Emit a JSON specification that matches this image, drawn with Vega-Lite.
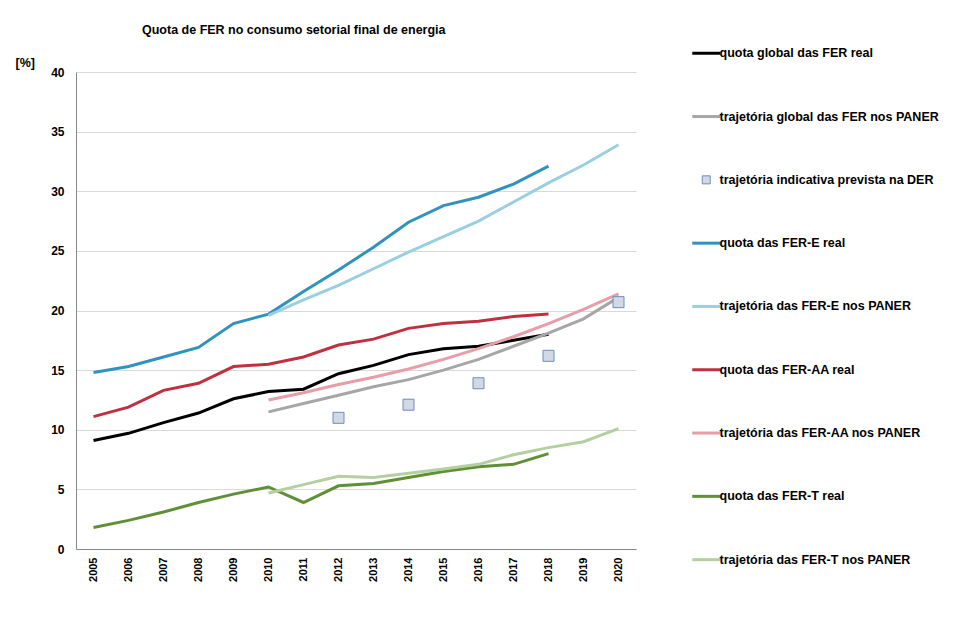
{
  "$schema": "https://vega.github.io/schema/vega-lite/v6.json",
  "width": 560,
  "height": 477,
  "autosize": {"type": "none"},
  "padding": {"left": 76, "top": 72, "right": 342, "bottom": 91},
  "background": "white",
  "title": {
    "text": "Quota de FER no consumo setorial final de energia",
    "anchor": "start",
    "dx": 127,
    "dy": 19,
    "offset": 30,
    "font": "Liberation Sans",
    "fontSize": 12.5,
    "fontWeight": "bold",
    "color": "#000000"
  },
  "data": {
    "values": [
      {"year": 2005, "series": "quota global das FER real", "value": 9.1},
      {"year": 2006, "series": "quota global das FER real", "value": 9.7},
      {"year": 2007, "series": "quota global das FER real", "value": 10.6},
      {"year": 2008, "series": "quota global das FER real", "value": 11.4},
      {"year": 2009, "series": "quota global das FER real", "value": 12.6},
      {"year": 2010, "series": "quota global das FER real", "value": 13.2},
      {"year": 2011, "series": "quota global das FER real", "value": 13.4},
      {"year": 2012, "series": "quota global das FER real", "value": 14.7},
      {"year": 2013, "series": "quota global das FER real", "value": 15.4},
      {"year": 2014, "series": "quota global das FER real", "value": 16.3},
      {"year": 2015, "series": "quota global das FER real", "value": 16.8},
      {"year": 2016, "series": "quota global das FER real", "value": 17.0},
      {"year": 2017, "series": "quota global das FER real", "value": 17.5},
      {"year": 2018, "series": "quota global das FER real", "value": 18.0},

      {"year": 2010, "series": "trajetória global das FER nos PANER", "value": 11.5},
      {"year": 2011, "series": "trajetória global das FER nos PANER", "value": 12.2},
      {"year": 2012, "series": "trajetória global das FER nos PANER", "value": 12.9},
      {"year": 2013, "series": "trajetória global das FER nos PANER", "value": 13.6},
      {"year": 2014, "series": "trajetória global das FER nos PANER", "value": 14.2},
      {"year": 2015, "series": "trajetória global das FER nos PANER", "value": 15.0},
      {"year": 2016, "series": "trajetória global das FER nos PANER", "value": 15.9},
      {"year": 2017, "series": "trajetória global das FER nos PANER", "value": 17.0},
      {"year": 2018, "series": "trajetória global das FER nos PANER", "value": 18.1},
      {"year": 2019, "series": "trajetória global das FER nos PANER", "value": 19.3},
      {"year": 2020, "series": "trajetória global das FER nos PANER", "value": 21.1},

      {"year": 2012, "series": "trajetória indicativa prevista na DER", "value": 11.0},
      {"year": 2014, "series": "trajetória indicativa prevista na DER", "value": 12.1},
      {"year": 2016, "series": "trajetória indicativa prevista na DER", "value": 13.9},
      {"year": 2018, "series": "trajetória indicativa prevista na DER", "value": 16.2},
      {"year": 2020, "series": "trajetória indicativa prevista na DER", "value": 20.7},

      {"year": 2005, "series": "quota das FER-E real", "value": 14.8},
      {"year": 2006, "series": "quota das FER-E real", "value": 15.3},
      {"year": 2007, "series": "quota das FER-E real", "value": 16.1},
      {"year": 2008, "series": "quota das FER-E real", "value": 16.9},
      {"year": 2009, "series": "quota das FER-E real", "value": 18.9},
      {"year": 2010, "series": "quota das FER-E real", "value": 19.7},
      {"year": 2011, "series": "quota das FER-E real", "value": 21.6},
      {"year": 2012, "series": "quota das FER-E real", "value": 23.4},
      {"year": 2013, "series": "quota das FER-E real", "value": 25.3},
      {"year": 2014, "series": "quota das FER-E real", "value": 27.4},
      {"year": 2015, "series": "quota das FER-E real", "value": 28.8},
      {"year": 2016, "series": "quota das FER-E real", "value": 29.5},
      {"year": 2017, "series": "quota das FER-E real", "value": 30.6},
      {"year": 2018, "series": "quota das FER-E real", "value": 32.1},

      {"year": 2010, "series": "trajetória das FER-E nos PANER", "value": 19.6},
      {"year": 2011, "series": "trajetória das FER-E nos PANER", "value": 20.9},
      {"year": 2012, "series": "trajetória das FER-E nos PANER", "value": 22.1},
      {"year": 2013, "series": "trajetória das FER-E nos PANER", "value": 23.5},
      {"year": 2014, "series": "trajetória das FER-E nos PANER", "value": 24.9},
      {"year": 2015, "series": "trajetória das FER-E nos PANER", "value": 26.2},
      {"year": 2016, "series": "trajetória das FER-E nos PANER", "value": 27.5},
      {"year": 2017, "series": "trajetória das FER-E nos PANER", "value": 29.1},
      {"year": 2018, "series": "trajetória das FER-E nos PANER", "value": 30.7},
      {"year": 2019, "series": "trajetória das FER-E nos PANER", "value": 32.2},
      {"year": 2020, "series": "trajetória das FER-E nos PANER", "value": 33.9},

      {"year": 2005, "series": "quota das FER-AA real", "value": 11.1},
      {"year": 2006, "series": "quota das FER-AA real", "value": 11.9},
      {"year": 2007, "series": "quota das FER-AA real", "value": 13.3},
      {"year": 2008, "series": "quota das FER-AA real", "value": 13.9},
      {"year": 2009, "series": "quota das FER-AA real", "value": 15.3},
      {"year": 2010, "series": "quota das FER-AA real", "value": 15.5},
      {"year": 2011, "series": "quota das FER-AA real", "value": 16.1},
      {"year": 2012, "series": "quota das FER-AA real", "value": 17.1},
      {"year": 2013, "series": "quota das FER-AA real", "value": 17.6},
      {"year": 2014, "series": "quota das FER-AA real", "value": 18.5},
      {"year": 2015, "series": "quota das FER-AA real", "value": 18.9},
      {"year": 2016, "series": "quota das FER-AA real", "value": 19.1},
      {"year": 2017, "series": "quota das FER-AA real", "value": 19.5},
      {"year": 2018, "series": "quota das FER-AA real", "value": 19.7},

      {"year": 2010, "series": "trajetória das FER-AA nos PANER", "value": 12.5},
      {"year": 2011, "series": "trajetória das FER-AA nos PANER", "value": 13.1},
      {"year": 2012, "series": "trajetória das FER-AA nos PANER", "value": 13.8},
      {"year": 2013, "series": "trajetória das FER-AA nos PANER", "value": 14.4},
      {"year": 2014, "series": "trajetória das FER-AA nos PANER", "value": 15.1},
      {"year": 2015, "series": "trajetória das FER-AA nos PANER", "value": 15.9},
      {"year": 2016, "series": "trajetória das FER-AA nos PANER", "value": 16.8},
      {"year": 2017, "series": "trajetória das FER-AA nos PANER", "value": 17.8},
      {"year": 2018, "series": "trajetória das FER-AA nos PANER", "value": 18.9},
      {"year": 2019, "series": "trajetória das FER-AA nos PANER", "value": 20.1},
      {"year": 2020, "series": "trajetória das FER-AA nos PANER", "value": 21.4},

      {"year": 2005, "series": "quota das FER-T real", "value": 1.8},
      {"year": 2006, "series": "quota das FER-T real", "value": 2.4},
      {"year": 2007, "series": "quota das FER-T real", "value": 3.1},
      {"year": 2008, "series": "quota das FER-T real", "value": 3.9},
      {"year": 2009, "series": "quota das FER-T real", "value": 4.6},
      {"year": 2010, "series": "quota das FER-T real", "value": 5.2},
      {"year": 2011, "series": "quota das FER-T real", "value": 3.9},
      {"year": 2012, "series": "quota das FER-T real", "value": 5.3},
      {"year": 2013, "series": "quota das FER-T real", "value": 5.5},
      {"year": 2014, "series": "quota das FER-T real", "value": 6.0},
      {"year": 2015, "series": "quota das FER-T real", "value": 6.5},
      {"year": 2016, "series": "quota das FER-T real", "value": 6.9},
      {"year": 2017, "series": "quota das FER-T real", "value": 7.1},
      {"year": 2018, "series": "quota das FER-T real", "value": 8.0},

      {"year": 2010, "series": "trajetória das FER-T nos PANER", "value": 4.7},
      {"year": 2011, "series": "trajetória das FER-T nos PANER", "value": 5.4},
      {"year": 2012, "series": "trajetória das FER-T nos PANER", "value": 6.1},
      {"year": 2013, "series": "trajetória das FER-T nos PANER", "value": 6.0},
      {"year": 2014, "series": "trajetória das FER-T nos PANER", "value": 6.35},
      {"year": 2015, "series": "trajetória das FER-T nos PANER", "value": 6.7},
      {"year": 2016, "series": "trajetória das FER-T nos PANER", "value": 7.1},
      {"year": 2017, "series": "trajetória das FER-T nos PANER", "value": 7.9},
      {"year": 2018, "series": "trajetória das FER-T nos PANER", "value": 8.5},
      {"year": 2019, "series": "trajetória das FER-T nos PANER", "value": 9.0},
      {"year": 2020, "series": "trajetória das FER-T nos PANER", "value": 10.1}
    ]
  },
  "encoding": {
    "x": {
      "field": "year",
      "type": "ordinal",
      "scale": {"type": "point", "padding": 0.5},
      "axis": {
        "title": null,
        "labelAngle": 270,
        "labelAlign": "right",
        "labelBaseline": "middle",
        "labelPadding": 8,
        "labelFontSize": 11,
        "grid": false,
        "ticks": false
      }
    },
    "y": {
      "field": "value",
      "type": "quantitative",
      "scale": {"domain": [0, 40], "nice": false},
      "axis": {
        "values": [0, 5, 10, 15, 20, 25, 30, 35, 40],
        "title": "[%]",
        "titleAngle": 0,
        "titleAlign": "left",
        "titleBaseline": "middle",
        "titleX": -61,
        "titleY": -10,
        "titleFont": "Liberation Sans",
        "titleFontSize": 12.5,
        "titleFontWeight": "bold",
        "titleColor": "#000000",
        "labelPadding": 12,
        "labelFontSize": 12,
        "grid": true,
        "ticks": false
      }
    },
    "color": {
      "field": "series",
      "type": "nominal",
      "scale": {
        "domain": [
          "quota global das FER real",
          "trajetória global das FER nos PANER",
          "trajetória indicativa prevista na DER",
          "quota das FER-E real",
          "trajetória das FER-E nos PANER",
          "quota das FER-AA real",
          "trajetória das FER-AA nos PANER",
          "quota das FER-T real",
          "trajetória das FER-T nos PANER"
        ],
        "range": ["#000000", "#A6A6A6", "#6F8DB8", "#3193BD", "#9ACFE0", "#C0303F", "#E59EAA", "#5F9038", "#B4CFA0"]
      },
      "legend": {
        "title": null,
        "orient": "none",
        "legendX": 624,
        "legendY": -25,
        "symbolType": "stroke",
        "symbolSize": 784,
        "symbolStrokeWidth": 3,
        "rowPadding": 50.3,
        "labelOffset": 7,
        "labelFont": "Liberation Sans",
        "labelFontSize": 12.5,
        "labelFontWeight": "bold",
        "labelColor": "#000000",
        "labelLimit": 300,
        "encode": {
          "symbols": {
            "update": {
              "shape": {"signal": "datum.value === 'trajetória indicativa prevista na DER' ? 'square' : 'stroke'"},
              "size": {"signal": "datum.value === 'trajetória indicativa prevista na DER' ? 64 : 784"},
              "strokeWidth": {"signal": "datum.value === 'trajetória indicativa prevista na DER' ? 1 : 3"},
              "fill": {"signal": "datum.value === 'trajetória indicativa prevista na DER' ? '#D1D9E5' : 'transparent'"}
            }
          }
        }
      }
    }
  },
  "layer": [
    {
      "transform": [{"filter": "datum.series !== 'trajetória indicativa prevista na DER'"}],
      "mark": {"type": "line", "strokeWidth": 3}
    },
    {
      "transform": [{"filter": "datum.series === 'trajetória indicativa prevista na DER'"}],
      "mark": {"type": "point", "shape": "square", "filled": false, "size": 121, "strokeWidth": 1, "opacity": 1},
      "encoding": {"fill": {"value": "#D1D9E5"}}
    }
  ],
  "config": {
    "font": "Liberation Sans",
    "view": {"stroke": null},
    "axis": {
      "labelFont": "Liberation Sans",
      "labelFontWeight": "bold",
      "labelColor": "#000000",
      "domainColor": "#888888",
      "gridColor": "#D9D9D9",
      "gridWidth": 1
    }
  }
}
